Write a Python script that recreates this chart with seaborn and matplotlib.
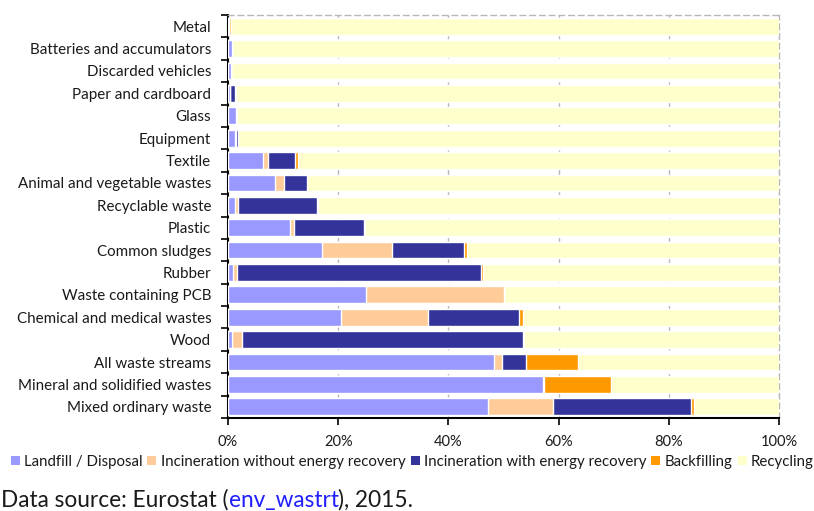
import matplotlib
matplotlib.use("Agg")
import matplotlib.pyplot as plt
from matplotlib.patches import Patch
from matplotlib.ticker import FixedLocator
import seaborn as sns
import pandas as pd

# Treatment shares (%) per waste category, 2015
categories = [
    "Metal", "Batteries and accumulators", "Discarded vehicles",
    "Paper and cardboard", "Glass", "Equipment", "Textile",
    "Animal and vegetable wastes", "Recyclable waste", "Plastic",
    "Common sludges", "Rubber", "Waste containing PCB",
    "Chemical and medical wastes", "Wood", "All waste streams",
    "Mineral and solidified wastes", "Mixed ordinary waste",
]
landfill = [0.1, 0.7, 0.6, 0.4, 1.5, 1.2, 6.4, 8.6, 1.3, 11.3,
            17.0, 0.9, 25.0, 20.5, 0.8, 48.2, 57.1, 47.1]
incineration_no_energy = [0.0, 0.0, 0.0, 0.0, 0.0, 0.2, 0.8, 1.5, 0.6, 0.7,
                          12.8, 0.8, 25.0, 15.8, 1.8, 1.6, 0.0, 11.8]
incineration_energy = [0.0, 0.0, 0.0, 0.9, 0.0, 0.5, 5.0, 4.2, 14.2, 12.7,
                       13.1, 44.3, 0.0, 16.5, 51.0, 4.3, 0.2, 25.1]
backfilling = [0.4, 0.0, 0.0, 0.1, 0.1, 0.0, 0.5, 0.0, 0.2, 0.2,
               0.5, 0.3, 0.0, 0.8, 0.2, 9.4, 12.2, 0.5]
recycling = [99.5, 99.3, 99.4, 98.6, 98.4, 98.1, 87.3, 85.7, 83.7, 75.1,
             56.6, 53.7, 50.0, 46.4, 46.2, 36.5, 30.5, 15.5]

series_names = ["Landfill / Disposal", "Incineration without energy recovery",
                "Incineration with energy recovery", "Backfilling", "Recycling"]
series_colors = ["#9999FF", "#FFCC99", "#333399", "#FF9900", "#FFFFCC"]
x_ticks = [0, 20, 40, 60, 80, 100]
x_tick_labels = ["0%", "20%", "40%", "60%", "80%", "100%"]

df = pd.DataFrame({
    "category": categories,
    series_names[0]: landfill,
    series_names[1]: incineration_no_energy,
    series_names[2]: incineration_energy,
    series_names[3]: backfilling,
    series_names[4]: recycling,
})
cum = df[series_names].cumsum(axis=1)
cum["category"] = df["category"]

sns.set_theme(style="white")
plt.rcParams["font.family"] = ["Lato", "DejaVu Sans"]
plt.rcParams["text.color"] = "#1a1a1a"

W, H = 814, 511
fig = plt.figure(figsize=(W / 100, H / 100), dpi=100)
ax = fig.add_axes([228 / W, 1 - 418 / H, 551 / W, (418 - 15) / H])

# Stacked bars: draw cumulative totals from the back to the front
for name, color in zip(series_names[::-1], series_colors[::-1]):
    sns.barplot(data=cum, x=name, y="category", order=categories,
                orient="h", color=color, saturation=1, width=0.75,
                errorbar=None, ax=ax, zorder=3)

ax.set_xlim(0, 100)
ax.set_ylim(len(categories) - 0.5, -0.5)
ax.set_xlabel("")
ax.set_ylabel("")

ax.set_xticks(x_ticks)
ax.set_xticklabels(x_tick_labels, fontsize=10.5, color="#1a1a1a")
ax.set_yticks(range(len(categories)))
ax.set_yticklabels(categories, fontsize=10.9, color="#1a1a1a")
ax.tick_params(axis="y", which="major", length=0, pad=12)
ax.yaxis.set_minor_locator(FixedLocator([i - 0.5 for i in range(len(categories) + 1)]))
ax.tick_params(axis="y", which="minor", length=5, width=1.2, color="black", left=True)
ax.tick_params(axis="x", which="major", length=5, width=1.2, color="black",
               bottom=True, pad=7)

ax.set_axisbelow(True)
ax.xaxis.grid(True, linestyle=(0, (4, 3)), color="#b8b8b8", linewidth=1)
ax.yaxis.grid(False)
for side in ("left", "bottom"):
    ax.spines[side].set_color("black")
    ax.spines[side].set_linewidth(1.5)
for side in ("top", "right"):
    ax.spines[side].set_color("#b8b8b8")
    ax.spines[side].set_linestyle((0, (4, 3)))
    ax.spines[side].set_linewidth(1)

handles = [Patch(facecolor=c, edgecolor="none") for c in series_colors]
fig.legend(handles, series_names, loc="center", bbox_to_anchor=(412 / W, 1 - 462 / H),
           ncol=5, frameon=False, fontsize=10.8, handlelength=0.6, handleheight=0.6,
           handletextpad=0.27, columnspacing=0.35, borderaxespad=0, borderpad=0)

# Source line, with the dataset code in link colour
y_src = 1 - 507 / H
src_size = 16.3
fig.text(1 / W, y_src, "Data source: Eurostat (", fontsize=src_size, va="baseline", ha="left")
fig.canvas.draw()
r = fig.canvas.get_renderer()
bb = fig.texts[-1].get_window_extent(r)
link = fig.text(bb.x1 / W, y_src, "env_wastrt", fontsize=src_size, va="baseline",
                ha="left", color="#2020ff")
bb2 = link.get_window_extent(r)
fig.text(bb2.x1 / W, y_src, "), 2015.", fontsize=src_size, va="baseline", ha="left")

fig.savefig("out.png", dpi=100)
